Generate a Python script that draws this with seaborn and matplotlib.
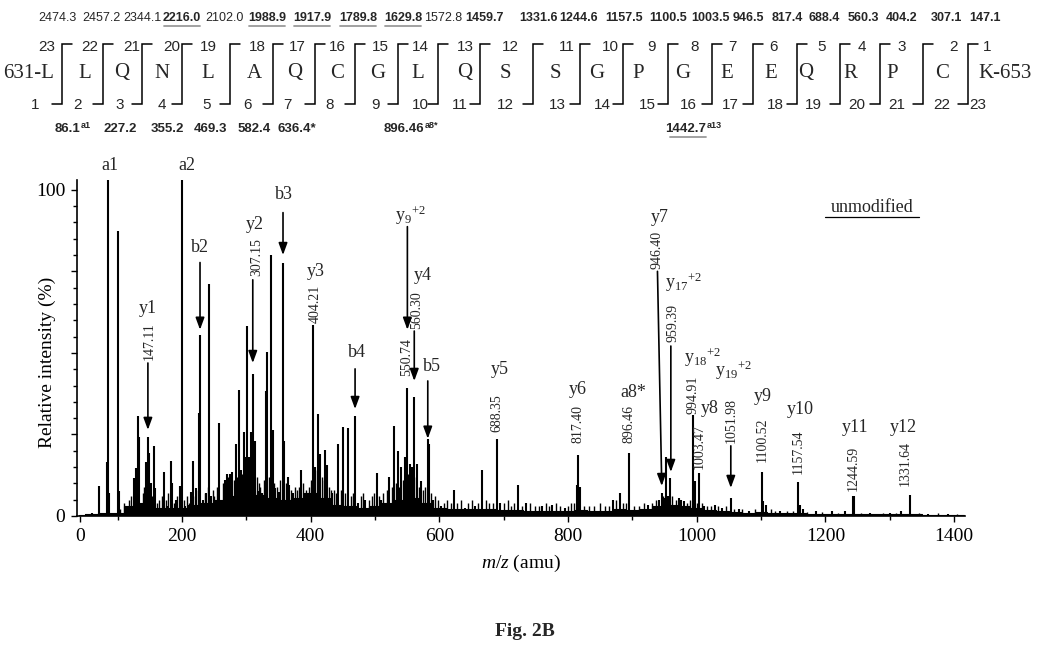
import matplotlib
matplotlib.use("Agg")
import matplotlib.pyplot as plt
import seaborn as sns

# ---------------- data ----------------
peak_mz = [60, 71.5, 84, 85.5, 87, 100.6, 102, 113, 126, 128, 132, 133.5, 136, 143.6, 147, 149,
           152, 156, 158, 166, 172.6, 177, 182.5, 185, 190, 197, 199.6, 205, 214, 217.7, 222, 226,
           228, 232, 238, 242.5, 245, 252, 258, 262, 267, 270, 274, 278, 284, 288, 292, 296, 298,
           301, 304, 307, 310, 313, 318, 324, 330, 332, 338, 341, 345, 350, 357, 359, 364, 366,
           372, 385, 390, 403.7, 407, 412, 415, 422, 426, 433, 443, 451, 458.6, 469, 474, 485,
           502.7, 510, 522, 530, 535, 540, 546, 550.3, 554, 558, 561, 566, 572, 582, 584, 590,
           603, 623, 640, 655, 667, 689, 694, 722, 735, 760, 775, 795, 814, 816, 819, 870, 880,
           895.5, 925, 941, 945.7, 950, 952, 956, 958.6, 965, 972, 976, 980, 995, 997, 1004,
           1012, 1028, 1040, 1053, 1065, 1082, 1101, 1103, 1108, 1130, 1157, 1160, 1165, 1185,
           1210, 1230, 1243.6, 1245, 1270, 1300, 1318, 1331.7, 1360, 1390]
peak_int = [1.0, 9.2, 16.7, 104, 7, 87.5, 7.8, 3, 11.6, 14.6, 30.7, 24.3, 4, 16.6, 24.3, 19.2,
            10, 21.5, 8.5, 2, 13.5, 3, 16.8, 10, 5, 9.2, 104, 3, 7.5, 16.8, 8.5, 31.6,
            55.5, 5, 7, 71.2, 6, 3, 28.5, 4, 11, 13, 13, 13.5, 22, 38.7, 14, 25.6, 18,
            58.1, 18, 25.7, 43.6, 23, 7.7, 7, 38.2, 50.4, 80, 26.4, 8.5, 7.5, 77.7, 23, 12, 9.6,
            7, 14, 7, 58.6, 15, 31.3, 19, 20.2, 15.6, 7, 22, 27.4, 27, 30.6, 4, 5,
            13.2, 5, 12, 27.7, 20, 15, 18, 39.2, 16, 15, 36.4, 15.8, 10.8, 23.5, 22, 5,
            3, 8, 2.5, 3, 14, 23.5, 4, 9.6, 4, 3, 3.5, 2.5, 9.5, 18.8, 9, 5, 7,
            19.2, 3.5, 5, 7.2, 5.5, 18.2, 6, 11.7, 3.5, 5.5, 5, 4.5, 31, 10.8, 13.3,
            3, 3.5, 2.5, 5.6, 2, 1.5, 13.5, 4.5, 3.5, 1.5, 10.3, 3.5, 2, 1.5,
            1.5, 1.5, 6.0, 6.0, 0.8, 0.8, 1.5, 6.4, 0.7, 0.6]

noise_mz = [104, 110, 117, 121, 139, 141, 154, 161, 164, 169, 175, 179, 188, 193, 203, 208, 211,
            220, 225, 235, 240, 248, 250, 255, 263, 265, 272, 276, 281, 286, 290, 294, 300, 306,
            312, 316, 320, 322, 327, 335, 343, 347, 353, 362, 369, 375, 378, 382, 388, 393, 397,
            400, 410, 418, 420, 428, 431, 437, 440, 447, 454, 462, 466, 478, 482, 490, 495, 498,
            506, 513, 518, 526, 533, 538, 544, 548, 552, 556, 563, 569, 575, 578, 587, 594, 598,
            607, 612, 618, 628, 633, 645, 650, 660, 672, 677, 683, 700, 706, 712, 716, 728, 741,
            748, 755, 765, 770, 782, 788, 800, 805, 809, 825, 832, 840, 850, 857, 863, 875, 885,
            890, 902, 910, 918, 930, 936, 948, 954, 962, 968, 985, 990, 1000, 1008, 1016, 1022,
            1033, 1046, 1058, 1070, 1090, 1115, 1122, 1140, 1150, 1172, 1195, 1220, 1255, 1290,
            1310, 1345, 1375, 1405]
noise_int = [2, 4, 5, 6, 7, 9, 6, 4, 5, 6, 5, 7, 4, 6, 5, 6, 4,
             6, 8, 7, 9, 8, 6, 9, 10, 8, 12, 10, 11, 12, 11, 13, 12, 14,
             11, 12, 10, 9, 11, 12, 10, 9, 11, 10, 8, 9, 8, 9, 10, 8, 9,
             11, 14, 12, 11, 9, 8, 8, 7, 8, 7, 6, 7, 6, 7, 5, 6, 7,
             6, 7, 8, 9, 10, 9, 11, 12, 13, 10, 12, 9, 8, 9, 7, 6, 5,
             4, 5, 4, 4, 5, 4, 5, 4, 5, 4, 4, 4, 5, 3, 4, 3, 4,
             3, 3, 4, 3, 4, 3, 3, 4, 4, 3, 3, 3, 4, 3, 3, 5, 4,
             4, 3, 3, 4, 4, 5, 6, 5, 6, 5, 4, 5, 4, 4, 3, 3,
             3, 3, 2, 2, 2, 2, 1.5, 1.5, 1.5, 1.2, 1.2, 1, 1, 1,
             1, 0.8, 0.8, 0.6]

bg_mz = [40, 60, 80, 100, 120, 140, 160, 180, 200, 220, 240, 260, 280, 300, 320, 340, 360, 380,
         400, 420, 440, 460, 480, 500, 520, 540, 560, 580, 600, 620, 640, 660, 680, 700, 720, 740,
         760, 780, 800, 820, 840, 860, 880, 900, 920, 940, 960, 980, 1000, 1020, 1040, 1060, 1080,
         1100, 1120, 1140, 1160, 1180, 1200, 1220, 1240, 1260, 1280, 1300, 1320, 1340, 1360, 1380,
         1400, 1415]
bg_level = [0.3, 0.5, 0.8, 1.0, 3.0, 4.0, 2.5, 2.5, 2.5, 3.5, 4.0, 5.0, 6.0, 7.0, 6.5, 5.5, 5.0, 5.5,
            7.0, 5.5, 3.5, 3.0, 2.5, 3.0, 4.0, 5.0, 5.5, 4.0, 2.5, 2.0, 2.0, 2.0, 2.0, 1.8, 1.8, 1.5,
            1.5, 1.5, 1.5, 1.8, 1.5, 1.5, 2.0, 1.8, 2.0, 3.0, 3.5, 3.0, 2.5, 1.8, 1.5, 1.2, 1.0,
            1.2, 1.0, 0.8, 0.9, 0.7, 0.7, 0.6, 0.6, 0.5, 0.5, 0.5, 0.5, 0.5, 0.4, 0.4,
            0.4, 0.3]

# ion annotations
ion_text = ['a1', 'a2', 'y1', 'b2', 'y2', 'b3', 'y3', 'b4', 'y$_{9}$$^{+2}$', 'y4', 'b5', 'y5',
            'y6', 'a8*', 'y7', 'y$_{17}$$^{+2}$', 'y$_{18}$$^{+2}$', 'y$_{19}$$^{+2}$', 'y8',
            'y9', 'y10', 'y11', 'y12']
mz_text = ['147.11', '307.15', '404.21', '550.74', '560.30', '688.35', '817.40', '896.46',
           '946.40', '959.39', '994.91', '1003.47', '1051.98', '1100.52', '1157.54', '1244.59',
           '1331.64']

# peptide map
residues = ['631-L', 'L', 'Q', 'N', 'L', 'A', 'Q', 'C', 'G', 'L', 'Q', 'S', 'S', 'G', 'P', 'G',
            'E', 'E', 'Q', 'R', 'P', 'C', 'K-653']
y_series = ['2474.3', '2457.2', '2344.1', '2216.0', '2102.0', '1988.9', '1917.9', '1789.8',
            '1629.8', '1572.8', '1459.7', '1331.6', '1244.6', '1157.5', '1100.5', '1003.5',
            '946.5', '817.4', '688.4', '560.3', '404.2', '307.1', '147.1']
y_bold = [0, 0, 0, 1, 0, 1, 1, 1, 1, 0, 1, 1, 1, 1, 1, 1, 1, 1, 1, 1, 1, 1, 1]
y_under = [0, 0, 0, 1, 0, 1, 1, 1, 1, 0, 0, 0, 0, 0, 0, 0, 0, 0, 0, 0, 0, 0, 0]
b_series = ['86.1', '227.2', '355.2', '469.3', '582.4', '636.4*', '896.46', '1442.7']
b_sup = ['a1', '', '', '', '', '', 'a8*', 'a13']
b_under = [0, 0, 0, 0, 0, 0, 0, 1]

# ---------------- layout (not data) ----------------
ion_pos = [(88, 107.5), (208, 107.5), (147, 63.5), (228, 82.2), (313, 89.3), (358, 98.5),
           (408, 74.8), (472, 50), (531, 92.1), (575, 73.6), (589, 45.7), (694, 44.8),
           (815, 38.7), (901, 38), (943, 91.4), (951, 71.5), (980.5, 48.5), (1028.6, 44.8),
           (1021, 33), (1103, 36.5), (1160.7, 32.5), (1246, 27), (1321, 27)]
ion_left = [0, 0, 0, 0, 0, 0, 0, 0, 1, 0, 0, 0, 0, 0, 0, 1, 1, 1, 0, 0, 0, 0, 0]
mz_pos = [(149, 53.7), (316.6, 79.4), (406.8, 65), (549, 48.8), (565, 63.2), (690, 31.6),
          (815.6, 28.2), (895, 28.2), (938.4, 81.6), (963, 59.2), (994.4, 37.1), (1003.7, 21.2),
          (1053, 29.4), (1101.6, 23.3), (1157.6, 19.6), (1243, 14.7), (1324, 16)]
arrows = [(147, 46.9, 147, 26.4), (228, 77.7, 228, 57.1), (310, 72.4, 310, 46.9),
          (357, 93, 357, 80), (469, 45.1, 469, 32.8), (550.3, 88.7, 550.3, 57.1),
          (561, 56.7, 561, 41.4), (582, 41.4, 582, 23.7), (939, 75, 945.7, 9.2),
          (959.8, 52.1, 959.8, 13.5), (1053, 21.5, 1053, 8.6)]

res_x = [29, 85, 122, 162, 208, 254, 295, 337, 378, 418, 465, 505, 555, 597, 638, 683, 727,
         771, 806, 850, 892, 942, 1005]
sep_x = [62, 103, 142, 182, 230, 273, 315, 355, 398, 438, 480, 533, 580, 623, 668, 712, 753,
         797, 840, 880, 923, 968]
top_num_x = [47, 90, 132, 172, 208, 257, 297, 337, 380, 420, 465, 510, 567, 610, 652, 695, 732,
             773, 822, 862, 902, 953, 987]
bot_num_x = [35, 77, 120, 162, 207, 248, 287, 330, 375, 420, 460, 505, 557, 602, 647, 688, 730,
             775, 813, 857, 897, 942, 978]
mass_x = [57, 101, 142, 182, 224, 267, 312, 358, 403, 443, 484, 539, 579, 624, 668, 710, 748,
          787, 824, 863, 902, 946, 985]
b_right_x = [80, 137, 184, 227, 271, 316, 424, 706]

# ---------------- style ----------------
sns.set_theme(style="ticks")
plt.rcParams['font.family'] = ['Liberation Serif', 'DejaVu Serif']
plt.rcParams['mathtext.fontset'] = 'custom'
plt.rcParams['mathtext.rm'] = 'Liberation Serif'
plt.rcParams['mathtext.it'] = 'Liberation Serif:italic'
plt.rcParams['mathtext.bf'] = 'Liberation Serif:bold'
SANS = ['Liberation Sans', 'DejaVu Sans']

fig = plt.figure(figsize=(10.5, 6.5), dpi=100)
fig.patch.set_facecolor('white')

# overlay axes in pixel units for the peptide map and caption
ov = fig.add_axes([0, 0, 1, 1], zorder=0)
ov.set_xlim(0, 1050)
ov.set_ylim(650, 0)
ov.axis('off')
ov.patch.set_alpha(0)

for i, m in enumerate(y_series):
    ov.text(mass_x[i], 18, m, ha='center', va='center', fontsize=9, family=SANS,
            fontweight='bold' if y_bold[i] else 'normal')
    if y_under[i]:
        ov.plot([mass_x[i] - 18, mass_x[i] + 18], [25.5, 25.5], color='#9a9a9a', lw=1.3)
for i, r in enumerate(residues):
    ov.text(res_x[i], 73, r, ha='center', va='center', fontsize=15)
for k, x in enumerate(top_num_x):
    ov.text(x, 47, str(23 - k), ha='center', va='center', fontsize=11, family=SANS)
for k, x in enumerate(bot_num_x):
    ov.text(x, 105, str(k + 1), ha='center', va='center', fontsize=11, family=SANS)
for x in sep_x:
    ov.plot([x + 10, x, x, x - 10], [44, 44, 104, 104], color='black', lw=1.1,
            solid_joinstyle='miter')
for i, m in enumerate(b_series):
    ov.text(b_right_x[i], 129, m, ha='right', va='center', fontsize=9.5, family=SANS,
            fontweight='bold')
    if b_sup[i]:
        ov.text(b_right_x[i] + 0.5, 125, b_sup[i], ha='left', va='center', fontsize=6.5,
                family=SANS, fontweight='bold')
    if b_under[i]:
        ov.plot([b_right_x[i] - 36, b_right_x[i]], [137, 137], color='#9a9a9a', lw=1.3)

fig.text(0.5, 1 - 632 / 650, 'Fig. 2B', ha='center', va='center', fontsize=14,
         fontweight='bold')

# spectrum axes
ax = fig.add_axes([77 / 1050, 1 - 516 / 650, (965 - 77) / 1050, (516 - 180) / 650], zorder=1)
ax.patch.set_alpha(0)

sns.lineplot(x=bg_mz, y=bg_level, ax=ax, color='black', lw=0.8, drawstyle='steps-mid')
ax.fill_between(bg_mz, 0, bg_level, step='mid', color='black', lw=0)
ax.vlines(noise_mz, 0, noise_int, color='black', lw=1.0)
ax.vlines(peak_mz, 0, peak_int, color='black', lw=1.5)

ax.set_xlim(36.8, 1417)
ax.set_ylim(0, 103)
sns.despine(ax=ax)
for s in ['left', 'bottom']:
    ax.spines[s].set_linewidth(1.2)
    ax.spines[s].set_color('black')

ax.set_xticks([41, 200, 400, 600, 800, 1000, 1200, 1400])
ax.set_xticklabels(['0', '200', '400', '600', '800', '1000', '1200', '1400'])
ax.set_xticks([100, 300, 500, 700, 900, 1100, 1300], minor=True)
ax.set_yticks([0, 25, 50, 75, 100])
ax.set_yticklabels(['0', '', '', '', '100'])
ax.set_yticks([v for v in range(5, 100, 5) if v % 25], minor=True)
ax.tick_params(axis='both', which='major', direction='out', length=4.5, width=1.0,
               labelsize=14, colors='black', pad=4)
ax.tick_params(axis='both', which='minor', direction='out', length=3, width=1.0,
               colors='black')

ax.set_ylabel('Relative intensity (%)', fontsize=14, color='black')
ax.yaxis.set_label_coords(-0.024, 0.456)
ax.set_xlabel('$\\it{m/z}$ (amu)', fontsize=14, color='black', labelpad=6)

for (txt, (x, y), left) in zip(ion_text, ion_pos, ion_left):
    ax.text(x, y, txt, ha='left' if left else 'center', va='center', fontsize=13,
            clip_on=False)
for txt, (x, y) in zip(mz_text, mz_pos):
    ax.text(x, y, txt, rotation=90, ha='center', va='center', fontsize=10)
for (x0, y0, x1, y1) in arrows:
    ax.annotate('', xy=(x1, y1), xytext=(x0, y0),
                arrowprops=dict(arrowstyle='-|>,head_length=0.6,head_width=0.22',
                                color='black', lw=1.2, shrinkA=0, shrinkB=0))

ax.text(1272, 94.5, 'unmodified', ha='center', va='center', fontsize=13)
ax.plot([1199, 1345], [91.6, 91.6], color='black', lw=0.9)

fig.savefig('out.png', dpi=100, facecolor='white')
